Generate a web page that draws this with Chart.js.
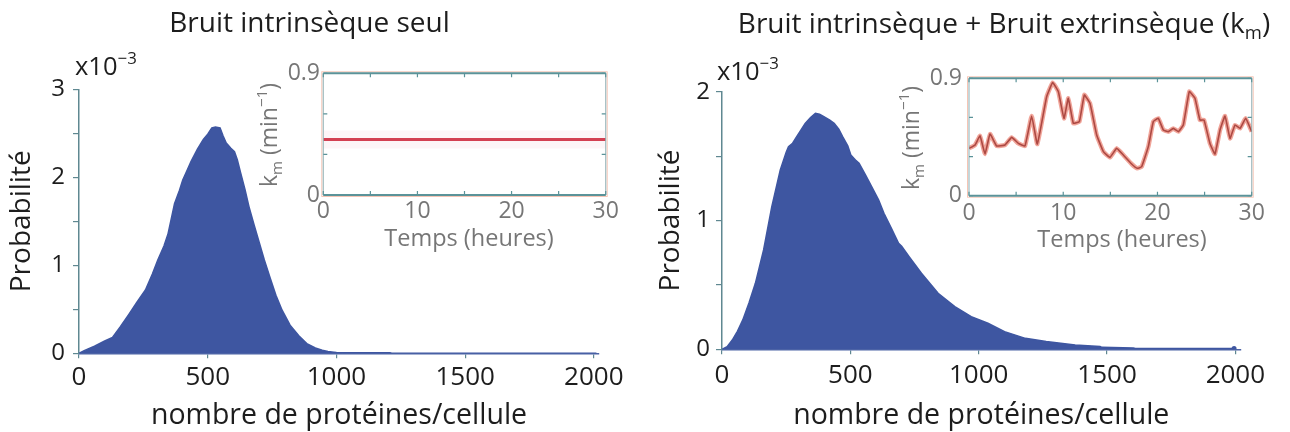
<!DOCTYPE html>
<html>
<head>
<meta charset="utf-8">
<script src="https://cdn.jsdelivr.net/npm/chart.js@4.4.1/dist/chart.umd.min.js"></script>
<style>
  html, body { margin: 0; padding: 0; background: #fff; }
  #wrap { position: relative; width: 1290px; height: 432px; overflow: hidden; background: #fff; }
  #wrap canvas { position: absolute; left: 0; top: 0; }
</style>
</head>
<body>
<div id="wrap">
  <canvas id="histA" width="1290" height="432"></canvas>
  <canvas id="histB" width="1290" height="432"></canvas>
  <canvas id="kmA" width="1290" height="432"></canvas>
  <canvas id="kmB" width="1290" height="432"></canvas>
</div>
<script>
// Protein-count distributions (probability in units of 10^-3)
const protIntrinsic = [0, 20, 60, 100, 130, 160, 193, 225, 258, 285, 306, 330, 346, 360, 371, 390, 403, 420, 435, 460,
  483, 500, 516, 530, 548, 560, 572, 590, 604, 615, 628, 645, 660, 680, 701, 720, 741, 765, 789, 820,
  854, 885, 918, 945, 967, 990, 1000, 1100, 1208, 1215, 1600, 2010];
const probIntrinsic = [0, 0.03, 0.08, 0.14, 0.18, 0.30, 0.44, 0.58, 0.72, 0.90, 1.06, 1.22, 1.36, 1.55, 1.70, 1.85, 1.97, 2.08, 2.18, 2.32,
  2.43, 2.49, 2.56, 2.57, 2.56, 2.47, 2.39, 2.33, 2.29, 2.20, 2.05, 1.86, 1.67, 1.46, 1.25, 1.06, 0.87, 0.66, 0.49, 0.32,
  0.20, 0.11, 0.06, 0.035, 0.02, 0.012, 0.008, 0.007, 0.006, 0.001, 0.001, 0.001];

const protTotal = [0, 20, 40, 60, 81, 105, 130, 162, 194, 227, 250, 259, 275, 291, 324, 345, 364, 380, 397, 420,
  437, 455, 470, 490, 502, 520, 534, 560, 583, 610, 631, 660, 688, 700, 729, 777, 842, 907, 971, 1036,
  1101, 1182, 1263, 1376, 1473, 1480, 1603, 1610, 1995];
const probTotal = [0, 0.02, 0.072, 0.14, 0.228, 0.36, 0.512, 0.771, 1.107, 1.392, 1.53, 1.573, 1.60, 1.651, 1.754, 1.80, 1.832, 1.825, 1.806, 1.78,
  1.754, 1.71, 1.651, 1.58, 1.508, 1.47, 1.444, 1.35, 1.263, 1.16, 1.056, 0.94, 0.823, 0.80, 0.719, 0.59, 0.435, 0.331, 0.254, 0.202,
  0.137, 0.085, 0.06, 0.034, 0.021, 0.015, 0.010, 0.006, 0.006];

// k_m over time (min^-1 vs hours)
const timeConst = [0, 30];
const kmConst = [0.41, 0.41];
const timeNoisy = [0, 0.64, 1.17, 1.70, 2.23, 2.94, 3.82, 4.53, 5.24, 5.94, 6.65, 7.25, 8.24, 8.88, 9.48,
  10.08, 10.54, 11.07, 11.71, 12.24, 12.84, 13.55, 14.26, 14.96, 15.67, 16.38, 17.26, 17.86, 18.32, 19.03,
  19.56, 20.09, 20.62, 21.15, 21.68, 22.22, 22.74, 23.38, 23.98, 24.51, 24.94, 25.57, 26.1, 26.64, 27.17,
  27.7, 28.23, 28.76, 29.36, 30];
const kmNoisy = [0.363, 0.389, 0.458, 0.32, 0.473, 0.381, 0.389, 0.447, 0.401, 0.381, 0.611, 0.396, 0.759, 0.867, 0.798,
  0.593, 0.747, 0.555, 0.568, 0.772, 0.708, 0.465, 0.338, 0.294, 0.363, 0.312, 0.243, 0.21, 0.222, 0.376,
  0.568, 0.593, 0.504, 0.491, 0.516, 0.491, 0.542, 0.798, 0.747, 0.58, 0.58, 0.401, 0.32, 0.504, 0.611,
  0.44, 0.542, 0.516, 0.593, 0.491];

// Tick values and their labels
const protTicks = [0, 500, 1000, 1500, 2000];
const protTickLabels = ['0', '500', '1000', '1500', '2000'];
const probTicksA = [0, 0.5, 1, 1.5, 2, 2.5, 3];
const probLabelsA = ['0', '', '1', '', '2', '', '3'];
const probTicksB = [0, 0.5, 1, 1.5, 2];
const probLabelsB = ['0', '', '1', '', '2'];
const timeTicks = [0, 5, 10, 15, 20, 25, 30];
const timeLabels = ['0', '', '10', '', '20', '', '30'];
const kmTicks = [0, 0.3, 0.6, 0.9];
const kmLabels = ['0', '', '', '0.9'];

const FONT = '"Open Sans", "Noto Sans", sans-serif';
const TEXT = '#1d1d1d';
const GRAY = '#767676';
const AXIS = '#5f8891';
const BLUE = '#3e56a1';
const FRAME = '#5b9399';

// Text with sub/superscript runs, optionally rotated
function drawRich(ctx, it) {
  const pieces = it.parts.map(p => {
    const s = (p.sub || p.sup) ? it.size * 0.66 : it.size;
    ctx.font = s + 'px ' + FONT;
    return { t: p.t, s, w: ctx.measureText(p.t).width,
             dy: p.sub ? it.size * 0.22 : (p.sup ? -it.size * 0.42 : 0) };
  });
  const total = pieces.reduce((a, p) => a + p.w, 0);
  ctx.save();
  ctx.translate(it.x, it.y);
  if (it.rotate) ctx.rotate(it.rotate * Math.PI / 180);
  let x = it.align === 'center' ? -total / 2 : (it.align === 'right' ? -total : 0);
  ctx.fillStyle = it.color;
  ctx.textAlign = 'left';
  ctx.textBaseline = 'alphabetic';
  pieces.forEach(p => {
    ctx.font = p.s + 'px ' + FONT;
    ctx.fillText(p.t, x, p.dy);
    x += p.w;
  });
  ctx.restore();
}

function textLayer(items) {
  return { id: 'textLayer', afterDraw(chart) { items.forEach(it => drawRich(chart.ctx, it)); } };
}

// Boxed frame with inward ticks for the k_m panels
const insetFrame = {
  id: 'insetFrame',
  afterDraw(chart) {
    const { ctx, chartArea: a, scales: { x, y } } = chart;
    ctx.save();
    // thin warm fringe around the box
    ctx.strokeStyle = 'rgba(236,150,120,0.55)';
    ctx.lineWidth = 1;
    ctx.strokeRect(a.left - 1.5, a.top - 1.5, a.right - a.left + 3, a.bottom - a.top + 3);
    // side edges lighter, top/bottom edges in teal
    ctx.strokeStyle = 'rgba(120,160,165,0.7)';
    ctx.lineWidth = 1.2;
    ctx.beginPath();
    ctx.moveTo(a.left, a.top); ctx.lineTo(a.left, a.bottom);
    ctx.moveTo(a.right, a.top); ctx.lineTo(a.right, a.bottom);
    ctx.stroke();
    ctx.strokeStyle = FRAME;
    ctx.lineWidth = 2;
    ctx.beginPath();
    ctx.moveTo(a.left, a.top); ctx.lineTo(a.right, a.top);
    ctx.moveTo(a.left, a.bottom); ctx.lineTo(a.right, a.bottom);
    ctx.stroke();
    ctx.lineWidth = 1.2;
    ctx.beginPath();
    const L = 4;
    x.ticks.forEach(t => {
      const px = x.getPixelForValue(t.value);
      ctx.moveTo(px, a.bottom); ctx.lineTo(px, a.bottom - L);
      ctx.moveTo(px, a.top); ctx.lineTo(px, a.top + L);
    });
    y.ticks.forEach(t => {
      const py = y.getPixelForValue(t.value);
      ctx.moveTo(a.left, py); ctx.lineTo(a.left + L, py);
      ctx.moveTo(a.right, py); ctx.lineTo(a.right - L, py);
    });
    ctx.stroke();
    ctx.restore();
  }
};

function histChart(id, prot, prob, o) {
  return new Chart(document.getElementById(id), {
    type: 'line',
    data: {
      datasets: [{
        data: prot.map((x, i) => ({ x, y: prob[i] })),
        fill: 'origin',
        backgroundColor: BLUE,
        borderColor: BLUE,
        borderWidth: 1.5,
        pointRadius: prot.map((_, i) => (o.endDot && i === prot.length - 1) ? 2.5 : 0),
        pointBackgroundColor: BLUE,
        pointBorderWidth: 0,
        tension: 0
      }]
    },
    options: {
      responsive: false, animation: false, devicePixelRatio: 1,
      layout: { padding: o.padding },
      plugins: { legend: { display: false }, tooltip: { enabled: false } },
      scales: {
        x: {
          type: 'linear', min: 0, max: 2020,
          afterBuildTicks: s => { s.ticks = protTicks.map(v => ({ value: v })); },
          afterFit: s => { s.height = o.xHeight; },
          ticks: { callback: (v, i) => protTickLabels[i], color: TEXT, font: { size: 26 },
                   padding: o.xPad, maxRotation: 0, autoSkip: false },
          grid: { drawOnChartArea: false, drawTicks: true, tickLength: 5, color: AXIS, lineWidth: 1.2 },
          border: { display: true, color: '#4d64a6', width: 1.5 },
          title: { display: true, text: 'nombre de protéines/cellule', color: TEXT,
                   font: { size: 28.5, lineHeight: 1.1 }, padding: { top: 0, bottom: 0 } }
        },
        y: {
          type: 'linear', min: 0, max: o.yMax,
          afterBuildTicks: s => { s.ticks = o.yTicks.map(v => ({ value: v })); },
          afterFit: s => { s.width = o.yWidth; },
          ticks: { callback: (v, i) => o.yLabels[i], color: TEXT, font: { size: 24 },
                   padding: o.yPad, autoSkip: false },
          grid: { drawOnChartArea: false, drawTicks: true, tickLength: 6, color: AXIS, lineWidth: 1.2 },
          border: { display: true, color: AXIS, width: 1.5 },
          title: { display: true, text: 'Probabilité', color: TEXT, font: { size: 28 },
                   padding: { top: o.yTitlePad, bottom: 0 } }
        }
      }
    },
    plugins: [textLayer(o.texts)]
  });
}

function kmChart(id, times, km, o) {
  const pts = times.map((t, i) => ({ x: t, y: km[i] }));
  return new Chart(document.getElementById(id), {
    type: 'line',
    data: {
      datasets: [
        { data: pts, borderColor: o.halo, borderWidth: o.haloWidth, pointRadius: 0, tension: o.tension },
        { data: pts, borderColor: o.line, borderWidth: o.lineWidth, pointRadius: 0, tension: o.tension }
      ]
    },
    options: {
      responsive: false, animation: false, devicePixelRatio: 1,
      layout: { padding: o.padding },
      plugins: { legend: { display: false }, tooltip: { enabled: false } },
      scales: {
        x: {
          type: 'linear', min: 0, max: 30,
          afterBuildTicks: s => { s.ticks = timeTicks.map(v => ({ value: v })); },
          afterFit: s => { s.height = 40; },
          ticks: { callback: (v, i) => timeLabels[i], color: GRAY, font: { size: 23 },
                   padding: o.xPad, maxRotation: 0, autoSkip: false },
          grid: { display: false, drawTicks: false },
          border: { display: false }
        },
        y: {
          type: 'linear', min: 0, max: 0.9,
          afterBuildTicks: s => { s.ticks = kmTicks.map(v => ({ value: v })); },
          afterFit: s => { s.width = o.yWidth; },
          ticks: { callback: (v, i) => kmLabels[i], color: GRAY, font: { size: 23 },
                   padding: o.yPad, autoSkip: false },
          grid: { display: false, drawTicks: false },
          border: { display: false }
        }
      }
    },
    plugins: [insetFrame, textLayer(o.texts)]
  });
}

function kmAxisTitle(x, y) {
  return { parts: [{ t: 'k' }, { t: 'm', sub: true }, { t: ' (min' }, { t: '−1', sup: true }, { t: ')' }],
           x, y, size: 23, rotate: -90, align: 'center', color: GRAY };
}
function scaleNote(x, y) {
  return { parts: [{ t: 'x10' }, { t: '−3', sup: true }], x, y, size: 25.5, align: 'left', color: TEXT };
}

function build() {
  Chart.defaults.font.family = FONT;
  Chart.defaults.color = TEXT;

  histChart('histA', protIntrinsic, probIntrinsic, {
    padding: { left: 0, top: 89.3, right: 691, bottom: 0 },
    xHeight: 78.7, xPad: 3.2,
    yMax: 3, yTicks: probTicksA, yLabels: probLabelsA, yWidth: 79, yPad: 8, yTitlePad: 5.2,
    texts: [
      { parts: [{ t: 'Bruit intrinsèque seul' }], x: 309.5, y: 32, size: 28, align: 'center', color: TEXT },
      scaleNote(75, 75)
    ]
  });

  histChart('histB', protTotal, probTotal, {
    padding: { left: 640, top: 91.7, right: 49.5, bottom: 0 },
    xHeight: 82.7, xPad: 5.2, endDot: true,
    yMax: 2, yTicks: probTicksB, yLabels: probLabelsB, yWidth: 82, yPad: 6, yTitlePad: 14.2,
    texts: [
      { parts: [{ t: 'Bruit intrinsèque + Bruit extrinsèque (k' }, { t: 'm', sub: true }, { t: ')' }],
        x: 1004, y: 33, size: 28, align: 'center', color: TEXT },
      scaleNote(717, 80)
    ]
  });

  kmChart('kmA', timeConst, kmConst, {
    padding: { left: 250, top: 73.3, right: 684.3, bottom: 197 },
    yWidth: 73.3, yPad: 3.3, xPad: 3,
    halo: 'rgba(226,120,140,0.07)', haloWidth: 18, line: '#d23d4e', lineWidth: 3, tension: 0,
    texts: [
      kmAxisTitle(277, 135),
      { parts: [{ t: 'Temps (heures)' }], x: 469, y: 246, size: 23.5, align: 'center', color: GRAY }
    ]
  });

  kmChart('kmB', timeNoisy, kmNoisy, {
    padding: { left: 900, top: 78.3, right: 38.3, bottom: 196.3 },
    yWidth: 69, yPad: 7, xPad: 4.3,
    halo: 'rgba(228,90,70,0.55)', haloWidth: 4.5, line: '#6a3540', lineWidth: 1.6, tension: 0.1,
    texts: [
      kmAxisTitle(919, 138),
      { parts: [{ t: 'Temps (heures)' }], x: 1122, y: 247, size: 23.5, align: 'center', color: GRAY }
    ]
  });
}

if (document.fonts && document.fonts.load) {
  document.fonts.load('28px "Open Sans"').then(build, build);
} else {
  build();
}
</script>
</body>
</html>
